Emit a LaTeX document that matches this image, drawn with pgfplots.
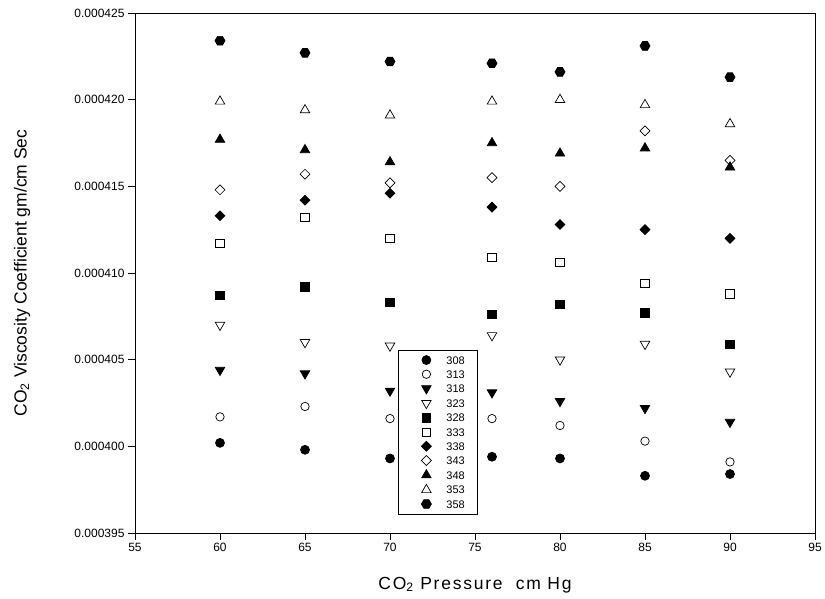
\documentclass[border=0pt]{standalone}
\usepackage{pgfplots}
\pgfplotsset{compat=1.18}
\usepackage{pgfplotstable}
\usepackage{fontspec}
\setmainfont{Liberation Sans}

\pgfdeclareplotmark{hexagon*}{%
  \pgfpathmoveto{\pgfqpointpolar{0}{\pgfplotmarksize}}%
  \pgfpathlineto{\pgfqpointpolar{60}{\pgfplotmarksize}}%
  \pgfpathlineto{\pgfqpointpolar{120}{\pgfplotmarksize}}%
  \pgfpathlineto{\pgfqpointpolar{180}{\pgfplotmarksize}}%
  \pgfpathlineto{\pgfqpointpolar{240}{\pgfplotmarksize}}%
  \pgfpathlineto{\pgfqpointpolar{300}{\pgfplotmarksize}}%
  \pgfpathclose
  \pgfusepathqfillstroke}

\pgfplotstableread{
x s308 s313 s318 s323 s328 s333 s338 s343 s348 s353 s358
60 0.0004002 0.0004017 0.0004044 0.0004070 0.0004087 0.0004117 0.0004133 0.0004148 0.0004177 0.0004199 0.0004234
65 0.0003998 0.0004023 0.0004042 0.0004060 0.0004092 0.0004132 0.0004142 0.0004157 0.0004171 0.0004194 0.0004227
70 0.0003993 0.0004016 0.0004032 0.0004058 0.0004083 0.0004120 0.0004146 0.0004152 0.0004164 0.0004191 0.0004222
76 0.0003994 0.0004016 0.0004031 0.0004064 0.0004076 0.0004109 0.0004138 0.0004155 0.0004175 0.0004199 0.0004221
80 0.0003993 0.0004012 0.0004026 0.0004050 0.0004082 0.0004106 0.0004128 0.0004150 0.0004169 0.0004200 0.0004216
85 0.0003983 0.0004003 0.0004022 0.0004059 0.0004077 0.0004094 0.0004125 0.0004182 0.0004172 0.0004197 0.0004231
90 0.0003984 0.0003991 0.0004014 0.0004043 0.0004059 0.0004088 0.0004120 0.0004165 0.0004161 0.0004186 0.0004213
}\data

\begin{document}
\begin{tikzpicture}
\begin{axis}[
  scale only axis,
  width=680pt, height=520pt,
  xmin=55, xmax=95, ymin=0.000395, ymax=0.000425,
  xtick={55,60,...,95},
  ytick={0.000395,0.0004,0.000405,0.00041,0.000415,0.00042,0.000425},
  scaled y ticks=false,
  yticklabel style={/pgf/number format/.cd, fixed, fixed zerofill, precision=6},
  /pgf/number format/assume math mode=true,
  tick label style={font=\fontsize{12}{14}\selectfont},
  tick align=outside, tick pos=left,
  major tick length=7pt,
  axis line style={line width=0.8pt},
  every tick/.style={line width=0.8pt, black},
  xlabel={\addfontfeature{LetterSpace=10}CO\textsubscript{2} Pressure~~cm Hg},
  ylabel={CO\textsubscript{2} Viscosity Coefficient gm/cm Sec},
  xlabel style={at={(axis description cs:0.5,-0.1)}, anchor=center, font=\fontsize{17.5}{20}\selectfont},
  ylabel style={at={(axis description cs:-0.166,0.5)}, anchor=center, font=\fontsize{17.5}{20}\selectfont},
  only marks,
  every axis plot/.append style={black, line width=0.7pt},
  legend image code/.code={\path[draw=none,fill=none] (0pt,-4pt) rectangle (35pt,4pt); \draw[#1] plot coordinates {(16pt,0pt)};},
  legend style={at={(axis cs:70.47,0.00039607)}, anchor=south west,
    font=\fontsize{11}{12}\selectfont, row sep=4.2pt, inner xsep=12pt, inner ysep=5pt,
    nodes={inner sep=1pt, text height=8pt, text depth=0pt},
    draw=black, line width=0.8pt, cells={anchor=west}},
  legend cell align=left,
]
\addplot[mark=*, mark size=4.5pt, fill=black] table[x=x,y=s308] {\data};
\addlegendentry{308}
\addplot[mark=o, mark size=4.2pt, mark options={fill=white}] table[x=x,y=s313] {\data};
\addlegendentry{313}
\addplot[mark=triangle*, mark size=5.5pt, mark options={rotate=180, fill=black}] table[x=x,y=s318] {\data};
\addlegendentry{318}
\addplot[mark=triangle*, mark size=5.5pt, mark options={rotate=180, fill=white}] table[x=x,y=s323] {\data};
\addlegendentry{323}
\addplot[mark=square*, mark size=4.2pt, mark options={fill=black}] table[x=x,y=s328] {\data};
\addlegendentry{328}
\addplot[mark=square*, mark size=4.2pt, mark options={fill=white}] table[x=x,y=s333] {\data};
\addlegendentry{333}
\addplot[mark=square*, mark size=3.5pt, mark options={rotate=45, fill=black}] table[x=x,y=s338] {\data};
\addlegendentry{338}
\addplot[mark=square*, mark size=3.5pt, mark options={rotate=45, fill=white}] table[x=x,y=s343] {\data};
\addlegendentry{343}
\addplot[mark=triangle*, mark size=5.5pt, mark options={fill=black}] table[x=x,y=s348] {\data};
\addlegendentry{348}
\addplot[mark=triangle*, mark size=5.5pt, mark options={fill=white}] table[x=x,y=s353] {\data};
\addlegendentry{353}
\addplot[mark=hexagon*, mark size=5pt, mark options={fill=black}] table[x=x,y=s358] {\data};
\addlegendentry{358}
\end{axis}
\pgfresetboundingbox
\path[use as bounding box] ([xshift=-135pt,yshift=-66pt]current axis.south west) rectangle ([xshift=10pt,yshift=13pt]current axis.north east);
\end{tikzpicture}
\end{document}
